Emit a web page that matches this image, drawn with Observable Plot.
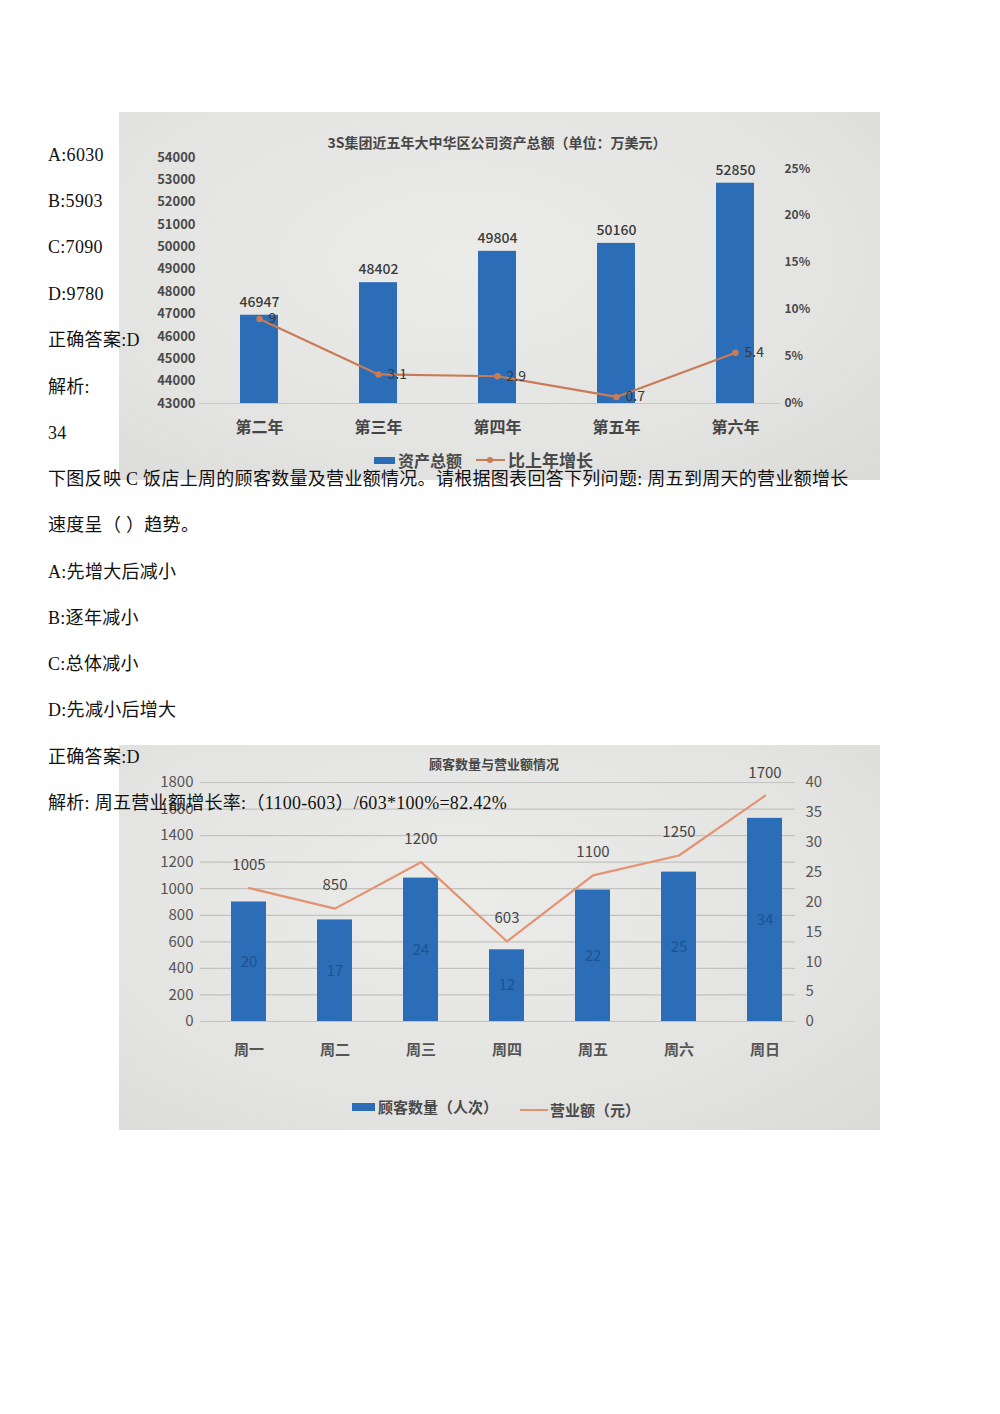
<!DOCTYPE html>
<html>
<head>
<meta charset="utf-8">
<script src="https://cdn.jsdelivr.net/npm/d3@7"></script>
<script src="https://cdn.jsdelivr.net/npm/@observablehq/plot@0.6"></script>
<style>
  html, body { margin: 0; padding: 0; background: #fff; }
  #page { position: relative; width: 1000px; height: 1414px; overflow: hidden; background: #fff; }
  .photo { position: absolute; overflow: hidden;
    background: radial-gradient(ellipse at 45% 40%, #ebebe9 0%, #e3e3e1 65%, #dadad8 100%); }
  .photo svg { position: absolute; left: 0; top: 0; }
  .ctitle { position: absolute; transform: translate(-50%, -50%); white-space: nowrap;
    font-family: "Noto Sans CJK SC", sans-serif; font-weight: 700; color: #474747; }
  .leg { position: absolute; white-space: nowrap; font-family: "Noto Sans CJK SC", sans-serif; color: #4a4a4a; }
  .sw { position: absolute; }
  .line { position: absolute; left: 48px; white-space: nowrap; font-family: "Liberation Serif", "Noto Sans CJK SC", serif;
    font-size: 18px; line-height: 26px; color: #111; letter-spacing: 0.3px; z-index: 5; }
</style>
</head>
<body>
<div id="page">
  <div id="c1" class="photo" style="left:119px;top:112px;width:761px;height:368px;">
    <div class="ctitle" style="left:378px;top:30px;font-size:14px;">3S集团近五年大中华区公司资产总额（单位：万美元）</div>
    <div class="sw" style="left:255px;top:345px;width:21px;height:7px;background:#2b6db6;"></div>
    <div class="leg" style="left:279px;top:337px;font-size:16px;font-weight:700;line-height:22px;">资产总额</div>
    <div class="sw" style="left:357px;top:347px;width:29px;height:2px;background:#c97b55;"></div>
    <div class="sw" style="left:368px;top:345px;width:6px;height:6px;border-radius:3px;background:#c97b55;"></div>
    <div class="leg" style="left:389px;top:337px;font-size:17px;font-weight:700;line-height:22px;">比上年增长</div>
  </div>
  <div id="c2" class="photo" style="left:119px;top:745px;width:761px;height:385px;">
    <div class="ctitle" style="left:375px;top:18px;font-size:13px;">顾客数量与营业额情况</div>
    <div class="sw" style="left:233px;top:358px;width:23px;height:8px;background:#2b6db6;"></div>
    <div class="leg" style="left:259px;top:351px;font-size:15px;font-weight:600;line-height:22px;">顾客数量（人次）</div>
    <div class="sw" style="left:401px;top:364px;width:28px;height:2px;background:#e39372;"></div>
    <div class="leg" style="left:431px;top:354px;font-size:15px;font-weight:600;line-height:22px;">营业额（元）</div>
  </div>

  <div class="line" style="top:142px;">A:6030</div>
  <div class="line" style="top:188px;">B:5903</div>
  <div class="line" style="top:234px;">C:7090</div>
  <div class="line" style="top:281px;">D:9780</div>
  <div class="line" style="top:327px;">正确答案:D</div>
  <div class="line" style="top:374px;">解析:</div>
  <div class="line" style="top:420px;">34</div>
  <div class="line" style="top:466px;">下图反映 C 饭店上周的顾客数量及营业额情况。请根据图表回答下列问题: 周五到周天的营业额增长</div>
  <div class="line" style="top:512px;">速度呈（ ）趋势。</div>
  <div class="line" style="top:559px;">A:先增大后减小</div>
  <div class="line" style="top:605px;">B:逐年减小</div>
  <div class="line" style="top:651px;">C:总体减小</div>
  <div class="line" style="top:697px;">D:先减小后增大</div>
  <div class="line" style="top:744px;">正确答案:D</div>
  <div class="line" style="top:790px;">解析: 周五营业额增长率:（1100-603）/603*100%=82.42%</div>
</div>

<script>
// ---- Chart 1 data ----
const years = ["第二年", "第三年", "第四年", "第五年", "第六年"];
const assets = [46947, 48402, 49804, 50160, 52850];
const growth = [9, 3.1, 2.9, 0.7, 5.4];
const growthLabels = ["9", "3.1", "2.9", "0.7", "5.4"];
const assetTicks = [43000, 44000, 45000, 46000, 47000, 48000, 49000, 50000, 51000, 52000, 53000, 54000];
const pctTicks = [0, 5, 10, 15, 20, 25];

// ---- Chart 2 data ----
const days = ["周一", "周二", "周三", "周四", "周五", "周六", "周日"];
const customers = [20, 17, 24, 12, 22, 25, 34];
const revenue = [1005, 850, 1200, 603, 1100, 1250, 1700];
const revenueTicks = [0, 200, 400, 600, 800, 1000, 1200, 1400, 1600, 1800];
const customerTicks = [0, 5, 10, 15, 20, 25, 30, 35, 40];

const FONT = "'Noto Sans CJK SC', sans-serif";

// secondary axis mappings (right axes share the plot's y scale)
const pctY = p => 43000 + p * 420;   // 0% at 43000, 25% at 53500
const custY = c => c * 45;           // 40 at 1800

const t1 = years.map((y, i) => ({year: y, asset: assets[i], growth: growth[i], label: growthLabels[i]}));
const t2 = days.map((d, i) => ({day: d, customers: customers[i], revenue: revenue[i]}));

const chart1 = Plot.plot({
  width: 761, height: 368,
  marginLeft: 80, marginRight: 100, marginTop: 45, marginBottom: 77,
  style: {background: "transparent", fontFamily: FONT, overflow: "visible"},
  x: {domain: years, paddingInner: 0.68, paddingOuter: 0.276, align: 0.606, label: null},
  y: {domain: [43000, 54000], label: null},
  marks: [
    Plot.ruleY([43000], {stroke: "#c8c8c6", strokeWidth: 1.2}),
    Plot.barY(t1, {x: "year", y1: 43000, y2: "asset", fill: "#2b6db6"}),
    Plot.text(t1, {x: "year", y: "asset", text: d => String(d.asset), dy: -13, fontSize: 14, fill: "#3a3a3a", fontWeight: 500}),
    Plot.line(t1, {x: "year", y: d => pctY(d.growth), stroke: "#c97b55", strokeWidth: 2.2}),
    Plot.dot(t1, {x: "year", y: d => pctY(d.growth), r: 3.2, fill: "#c97b55", stroke: "none"}),
    Plot.text(t1, {x: "year", y: d => pctY(d.growth), text: "label", dx: 9, textAnchor: "start", fontSize: 14, fill: "#3a3a3a"}),
    Plot.axisY(assetTicks, {anchor: "left", label: null, tickSize: 0, tickPadding: 4, fontSize: 13, fontWeight: 600, fill: "#4a4a4a", tickFormat: d => String(d)}),
    Plot.axisY(pctTicks.map(pctY), {anchor: "right", label: null, tickSize: 0, tickPadding: 4, fontSize: 12, fontWeight: 600, fill: "#4a4a4a", tickFormat: d => Math.round((d - 43000) / 420) + "%"}),
    Plot.axisX({label: null, tickSize: 0, tickPadding: 18, fontSize: 16, fontWeight: 700, fill: "#454545"})
  ]
});
document.getElementById("c1").prepend(chart1);

const chart2 = Plot.plot({
  width: 761, height: 385,
  marginLeft: 81, marginRight: 85, marginTop: 37, marginBottom: 109,
  style: {background: "transparent", fontFamily: FONT, overflow: "visible"},
  x: {domain: days, paddingInner: 0.59, paddingOuter: 0.2475, align: 0.71, label: null},
  y: {domain: [0, 1800], label: null},
  marks: [
    Plot.gridY(revenueTicks, {stroke: "#c2c2c0", strokeOpacity: 1, strokeWidth: 1.2}),
    Plot.barY(t2, {x: "day", y: d => custY(d.customers), fill: "#2b6db6"}),
    Plot.text(t2, {x: "day", y: d => custY(d.customers) / 2, text: d => String(d.customers), fontSize: 15, fill: "#1f528f"}),
    Plot.line(t2, {x: "day", y: "revenue", stroke: "#e39372", strokeWidth: 2.2}),
    Plot.text(t2, {x: "day", y: "revenue", text: d => String(d.revenue), dy: -23, fontSize: 15, fill: "#454545"}),
    Plot.axisY(revenueTicks, {anchor: "left", label: null, tickSize: 0, tickPadding: 7, fontSize: 15, fill: "#555", tickFormat: d => String(d)}),
    Plot.axisY(customerTicks.map(custY), {anchor: "right", label: null, tickSize: 0, tickPadding: 10, fontSize: 15, fill: "#555", tickFormat: d => String(Math.round(d / 45))}),
    Plot.axisX({label: null, tickSize: 0, tickPadding: 23, fontSize: 15, fontWeight: 600, fill: "#555"})
  ]
});
document.getElementById("c2").prepend(chart2);
</script>
</body>
</html>
